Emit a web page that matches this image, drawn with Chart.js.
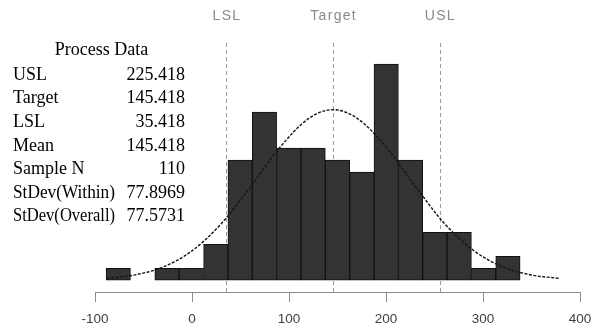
<!DOCTYPE html>
<html>
<head>
<meta charset="utf-8">
<script src="https://cdn.jsdelivr.net/npm/chart.js@4/dist/chart.umd.min.js"></script>
<style>
  html, body { margin: 0; padding: 0; background: #ffffff; }
  canvas { display: block; }
</style>
</head>
<body>
<canvas id="c" width="596" height="331"></canvas>
<script>
// ---- Data ----
const binCenters = [-76.0, -50.9, -25.8, -0.7, 24.5, 49.6, 74.7, 99.8, 124.9, 150.0, 175.1, 200.2, 225.3, 250.4, 275.5, 300.6, 325.7];
const binCounts  = [1, 0, 1, 1, 3, 10, 14, 11, 11, 10, 9, 18, 10, 4, 4, 1, 2];

const curveX = [-88, -60, -30, 0, 30, 60, 90, 120, 145, 170, 200, 230, 260, 290, 320, 350, 378];
const curveY = [0.15, 0.43, 1.1, 2.45, 4.7, 7.75, 11.0, 13.45, 14.2, 13.5, 11.1, 7.85, 4.75, 2.5, 1.13, 0.44, 0.16];

const specNames  = ['LSL', 'Target', 'USL'];
const specValues = [35.418, 145.418, 255.418];

const xTickValues = [-100, 0, 100, 200, 300, 400];

const processTitle  = 'Process Data';
const processLabels = ['USL', 'Target', 'LSL', 'Mean', 'Sample N', 'StDev(Within)', 'StDev(Overall)'];
const processValues = ['225.418', '145.418', '35.418', '145.418', '110', '77.8969', '77.5731'];

// ---- Build datasets ----
const barData = binCenters.map((x, i) => ({ x: x, y: binCounts[i] === 0 ? null : binCounts[i] }));
const curveData = curveX.map((x, i) => ({ x: x, y: curveY[i] }));

const specLinesPlugin = {
  id: 'specLines',
  beforeDatasetsDraw(chart) {
    const ctx = chart.ctx;
    const xs = chart.scales.x;
    const area = chart.chartArea;
    ctx.save();
    ctx.strokeStyle = '#9a9a9a';
    ctx.lineWidth = 1;
    ctx.setLineDash([4, 3]);
    specValues.forEach(v => {
      const px = Math.round(xs.getPixelForValue(v)) + 0.5;
      ctx.beginPath();
      ctx.moveTo(px, area.top);
      ctx.lineTo(px, area.bottom);
      ctx.stroke();
    });
    ctx.restore();
  },
  afterDraw(chart) {
    const ctx = chart.ctx;
    const xs = chart.scales.x;
    ctx.save();
    // spec labels on top
    ctx.fillStyle = '#8a8a8a';
    ctx.font = '14px "Liberation Sans", Arial, sans-serif';
    try { ctx.letterSpacing = '1.3px'; } catch (e) {}
    ctx.textAlign = 'center';
    ctx.textBaseline = 'middle';
    specNames.forEach((n, i) => {
      ctx.fillText(n, xs.getPixelForValue(specValues[i]) + 0.6, 16);
    });
    try { ctx.letterSpacing = '0px'; } catch (e) {}
    // process data panel
    ctx.fillStyle = '#000000';
    ctx.font = '18px "Liberation Serif", "Times New Roman", serif';
    ctx.textBaseline = 'alphabetic';
    ctx.textAlign = 'center';
    ctx.fillText(processTitle, 101.5, 55);
    const baseY = 79.7, step = 23.6;
    processLabels.forEach((lab, i) => {
      const y = baseY + i * step;
      ctx.textAlign = 'left';
      ctx.fillText(lab, 13, y, 102);
      ctx.textAlign = 'right';
      ctx.fillText(processValues[i], 185, y);
    });
    ctx.restore();
  }
};

new Chart(document.getElementById('c'), {
  data: {
    datasets: [
      {
        type: 'line',
        data: curveData,
        borderColor: '#141414',
        borderWidth: 1.4,
        borderDash: [3, 1.5],
        pointRadius: 0,
        fill: false,
        cubicInterpolationMode: 'monotone',
        order: 0
      },
      {
        type: 'bar',
        data: barData,
        backgroundColor: '#333333',
        borderColor: '#111111',
        borderWidth: 1,
        borderSkipped: false,
        barPercentage: 1.0,
        categoryPercentage: 1.0,
        order: 1
      }
    ]
  },
  options: {
    responsive: false,
    devicePixelRatio: 1,
    animation: false,
    layout: { padding: { left: 95, right: 16, top: 43, bottom: 0 } },
    plugins: { legend: { display: false }, tooltip: { enabled: false } },
    scales: {
      x: {
        type: 'linear',
        min: -100,
        max: 400,
        offset: false,
        afterBuildTicks(scale) { scale.ticks = xTickValues.map(v => ({ value: v })); },
        afterFit(scale) { scale.height = 39; scale.paddingLeft = 0; scale.paddingRight = 0; },
        grid: { display: true, drawOnChartArea: false, drawTicks: true, tickLength: 10, color: '#8a8a8a', offset: false },
        border: { display: true, color: '#8a8a8a', width: 1 },
        ticks: {
          padding: 9,
          color: '#404040',
          maxRotation: 0,
          font: { family: '"Liberation Sans", Arial, sans-serif', size: 13.5 }
        }
      },
      y: {
        type: 'linear',
        display: false,
        min: -0.975,
        max: 19.75
      }
    }
  },
  plugins: [specLinesPlugin]
});
</script>
</body>
</html>
